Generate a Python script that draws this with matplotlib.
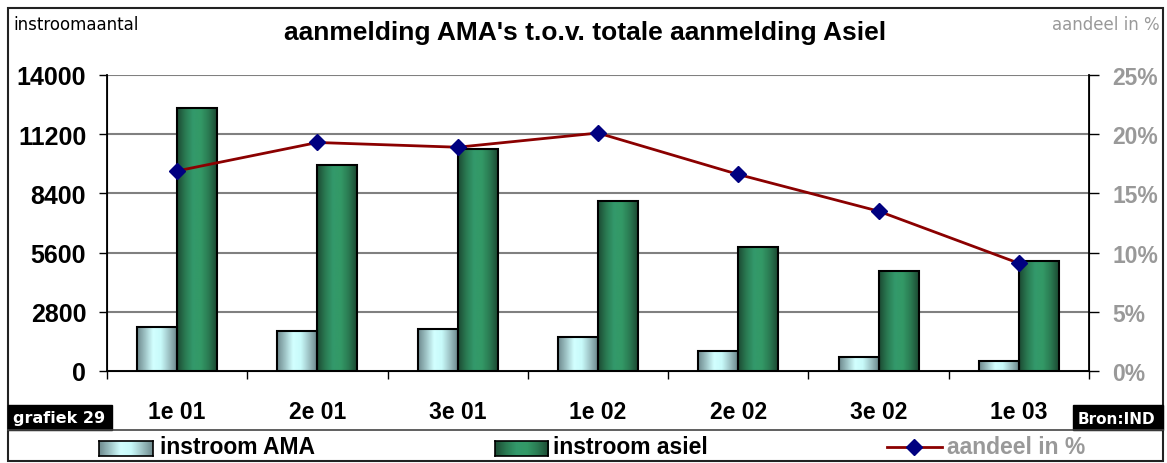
import numpy as np
import matplotlib
matplotlib.use("Agg")
import matplotlib.pyplot as plt
from matplotlib.colors import LinearSegmentedColormap
from matplotlib.patches import Rectangle
from matplotlib.lines import Line2D
from matplotlib.ticker import FuncFormatter, FixedLocator

categories = ["1e 01", "2e 01", "3e 01", "1e 02", "2e 02", "3e 02", "1e 03"]
instroom_ama = [2095, 1880, 2005, 1610, 950, 680, 490]
instroom_asiel = [12425, 9745, 10500, 8055, 5880, 4745, 5220]
aandeel_pct = [16.9, 19.3, 18.9, 20.1, 16.6, 13.5, 9.1]
left_ticks = [0, 2800, 5600, 8400, 11200, 14000]
right_ticks = [0, 5, 10, 15, 20, 25]

plt.rcParams['font.family'] = ['Liberation Sans', 'DejaVu Sans']

W, H = 1167, 464
fig = plt.figure(figsize=(W / 100, H / 100), dpi=100)

def fx(px):
    return px / W

def fy(py):
    return 1 - py / H

ax = fig.add_axes([fx(107), fy(372), fx(1089) - fx(107), fy(76) - fy(372)])
ax2 = ax.twinx()

x = np.arange(len(categories))
bw = 0.285

ama_cmap = LinearSegmentedColormap.from_list(
    "ama", ["#6e8a8e", "#9fc4c6", "#d2ffff", "#c8fafa", "#9fc4c6", "#6e8a8e"])
asiel_cmap = LinearSegmentedColormap.from_list(
    "asiel", ["#1c4a33", "#2a7a52", "#33996b", "#339966", "#2a7a52", "#1c4a33"])

bars_ama = ax.bar(x - bw, instroom_ama, width=bw, align='edge',
                  edgecolor='black', linewidth=1.5, facecolor='none', zorder=3)
bars_asiel = ax.bar(x, instroom_asiel, width=bw, align='edge',
                    edgecolor='black', linewidth=1.5, facecolor='none', zorder=3)

grad = np.linspace(0, 1, 64).reshape(1, -1)
for bars, cmap in ((bars_ama, ama_cmap), (bars_asiel, asiel_cmap)):
    for b in bars:
        x0, y0 = b.get_x(), b.get_y()
        w, h = b.get_width(), b.get_height()
        im = ax.imshow(grad, cmap=cmap, aspect='auto',
                       extent=[x0, x0 + w, y0, y0 + h], zorder=2,
                       interpolation='bilinear')
        im.set_clip_path(b)

ax.set_xlim(-0.5, len(categories) - 0.5)
ax.set_ylim(0, 14000)
ax.set_yticks(left_ticks)
ax.set_yticklabels([str(v) for v in left_ticks], fontsize=18, fontweight='bold')
ax.yaxis.grid(True, color='#808080', linewidth=1.5, zorder=0)
ax.set_axisbelow(True)
ax.set_xticks(x)
ax.set_xticklabels(categories, fontsize=16.5, fontweight='bold')
ax.xaxis.set_minor_locator(FixedLocator(np.arange(-0.5, len(categories), 1.0)))
ax.tick_params(axis='x', which='major', length=0, pad=21)
ax.tick_params(axis='x', which='minor', length=6, width=1, color='black')
ax.tick_params(axis='y', length=6, width=1, pad=9, colors='black')

ax.spines['top'].set_visible(False)
ax2.spines['top'].set_visible(False)
ax.spines['left'].set_linewidth(1.3)
ax.spines['bottom'].set_linewidth(1.3)
ax2.spines['right'].set_linewidth(1.3)

ax2.plot(x, aandeel_pct, color='#8b0000', linewidth=2, marker='D',
         markersize=8, markerfacecolor='#000080', markeredgecolor='#000080',
         zorder=5)
ax2.set_ylim(0, 25)
ax2.set_yticks(right_ticks)
ax2.yaxis.set_major_formatter(FuncFormatter(lambda v, p: f"{int(v)}%"))
ax2.tick_params(axis='y', length=7, width=1, pad=10, colors='black',
                labelcolor='#999999', labelsize=16.5)
for t in ax2.get_yticklabels():
    t.set_fontweight('bold')

# Texts
fig.text(fx(585), fy(33), "aanmelding AMA's t.o.v. totale aanmelding Asiel",
         ha='center', va='center', fontsize=19, fontweight='bold')
fig.text(fx(13), fy(25), "instroomaantal", ha='left', va='center',
         fontsize=12, family='DejaVu Sans')
fig.text(fx(1160), fy(25), "aandeel in %", ha='right', va='center',
         fontsize=12, color='#999999', family='DejaVu Sans')

# Outer border and separator
fig.add_artist(Rectangle((fx(8), fy(462)), fx(1163) - fx(8), fy(9) - fy(462),
                         transform=fig.transFigure, fill=False,
                         edgecolor='#222222', linewidth=1.5))
fig.add_artist(Line2D([fx(8), fx(1163)], [fy(431), fy(431)],
                      transform=fig.transFigure, color='#444444', linewidth=1.2))

# black label boxes
fig.add_artist(Rectangle((fx(8), fy(431)), fx(112) - fx(8), fy(406) - fy(431),
                         transform=fig.transFigure, facecolor='black',
                         edgecolor='black'))
fig.text(fx(13), fy(419), "grafiek 29", color='white', fontsize=11.5,
         fontweight='bold', family='DejaVu Sans', ha='left', va='center')
fig.add_artist(Rectangle((fx(1073), fy(431)), fx(1163) - fx(1073), fy(406) - fy(431),
                         transform=fig.transFigure, facecolor='black',
                         edgecolor='black'))
fig.text(fx(1078), fy(419), "Bron:IND", color='white', fontsize=11,
         fontweight='bold', family='DejaVu Sans', ha='left', va='center')

# Legend (manual)
def legend_patch(px0, px1, cmap):
    lax = fig.add_axes([fx(px0), fy(457), fx(px1) - fx(px0), fy(442) - fy(457)])
    lax.imshow(grad, cmap=cmap, aspect='auto', extent=[0, 1, 0, 1],
               interpolation='bilinear')
    lax.set_xticks([])
    lax.set_yticks([])
    for s in lax.spines.values():
        s.set_linewidth(1.2)

legend_patch(99, 153, ama_cmap)
fig.text(fx(160), fy(448), "instroom AMA", fontsize=16.5, fontweight='bold',
         ha='left', va='center')
legend_patch(495, 548, asiel_cmap)
fig.text(fx(553), fy(448), "instroom asiel", fontsize=16.5, fontweight='bold',
         ha='left', va='center')
fig.add_artist(Line2D([fx(887), fx(942)], [fy(448), fy(448)],
                      transform=fig.transFigure, color='#8b0000', linewidth=2))
fig.add_artist(Line2D([fx(914)], [fy(448)], transform=fig.transFigure,
                      marker='D', markersize=8, markerfacecolor='#000080',
                      markeredgecolor='#000080', linestyle='none'))
fig.text(fx(947), fy(448), "aandeel in %", fontsize=16.5, fontweight='bold',
         color='#999999', ha='left', va='center')

fig.savefig("out.png", dpi=100)
